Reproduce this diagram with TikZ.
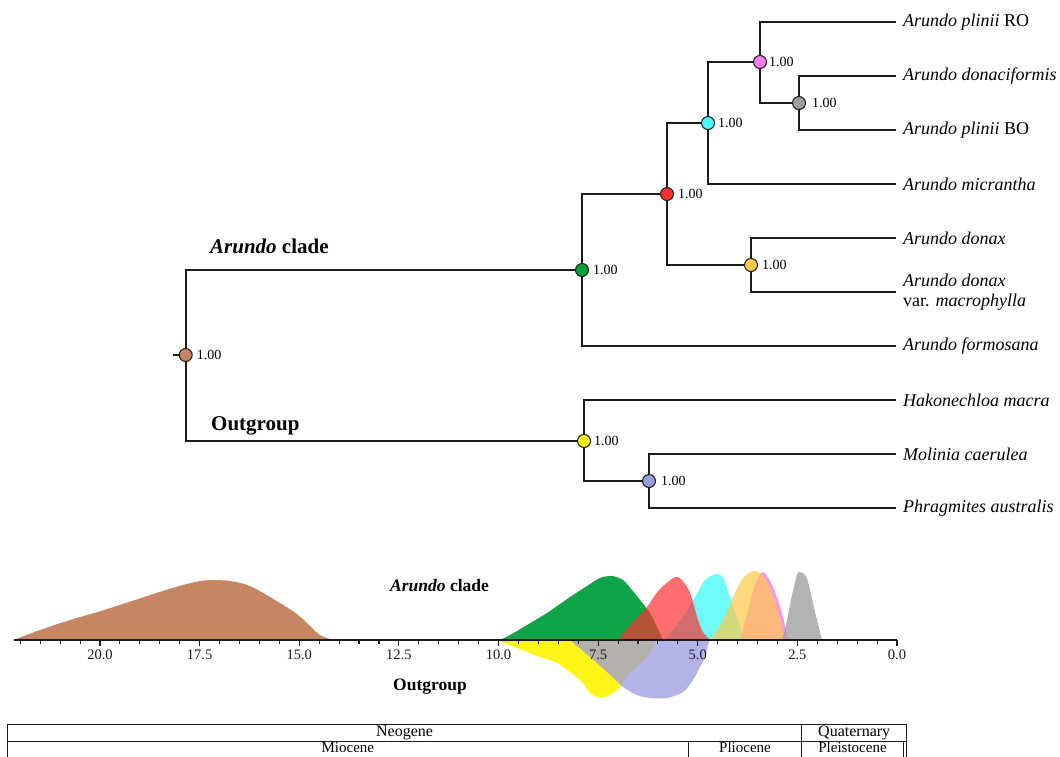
\documentclass[tikz,border=0pt]{standalone}
\usepackage{fontspec}
\setmainfont{Liberation Serif}
\usetikzlibrary{positioning}
\definecolor{tree-line}{HTML}{1A1A1A}
\definecolor{root-brown}{HTML}{C68664}
\definecolor{clade-green}{HTML}{00A03E}
\definecolor{clade-red}{HTML}{FF3030}
\definecolor{clade-cyan}{HTML}{48FAFA}
\definecolor{clade-pink}{HTML}{F77CF0}
\definecolor{clade-gray}{HTML}{A0A0A0}
\definecolor{clade-gold}{HTML}{FFC94A}
\definecolor{out-yellow}{HTML}{FFF400}
\definecolor{out-lavender}{HTML}{9A9AE0}
\tikzset{
  tree-node/.style={
    circle, draw=tree-line, line width=1pt,
    minimum size=13pt, inner sep=0pt
  },
  tree-edge/.style={draw=tree-line, line width=2pt},
  pp-label/.style={font=\fontsize{14}{16}\selectfont, inner sep=1pt},
  tip-label/.style={
    anchor=west, align=left, inner sep=0pt,
    font=\fontsize{18}{20}\selectfont\itshape
  },
  group-label/.style={anchor=base west, inner sep=0pt, font=\fontsize{21}{24}\selectfont\bfseries},
  dens-label/.style={anchor=base west, inner sep=0pt, font=\fontsize{17.5}{20}\selectfont\bfseries},
  density/.style={draw=none, fill opacity=0.8},
  axis-line/.style={draw=tree-line, line width=1.4pt},
  tick-label/.style={font=\fontsize{14.5}{16}\selectfont, inner sep=0pt},
  era-cell/.style={
    draw=tree-line, line width=1.1pt, inner sep=0pt,
    minimum height=17.7pt, font=\fontsize{16}{17}\selectfont
  },
  era-text/.style={anchor=base, inner sep=0pt, font=\fontsize{15}{16}\selectfont}
}

\begin{document}
\begin{tikzpicture}[x=1pt, y=-1pt]
  \useasboundingbox (0,0) rectangle (1060,756);

  % Internal nodes of the tree
  \node[tree-node, fill=root-brown]   (root)     at (185.7,355)   {};
  \node[tree-node, fill=clade-green]  (arundo)   at (582,270)     {};
  \node[tree-node, fill=clade-red]    (a-core)   at (667,194)     {};
  \node[tree-node, fill=clade-cyan]   (a-plin)   at (708,123)     {};
  \node[tree-node, fill=clade-pink]   (a-ro)     at (760,62)      {};
  \node[tree-node, fill=clade-gray]   (a-bo)     at (799,103)     {};
  \node[tree-node, fill=clade-gold]   (a-donax)  at (751,265)     {};
  \node[tree-node, fill=out-yellow]   (outg)     at (584,441)     {};
  \node[tree-node, fill=out-lavender] (outg-mp)  at (649,481)     {};
  \coordinate (root-stub) at (173,355);

  % Posterior probabilities
  \node[pp-label, right=3pt of root]    {1.00};
  \node[pp-label, right=3pt of arundo]  {1.00};
  \node[pp-label, right=3pt of a-core]  {1.00};
  \node[pp-label, right=2pt of a-plin]  {1.00};
  \node[pp-label, right=1pt of a-ro]    {1.00};
  \node[pp-label, right=5pt of a-bo]    {1.00};
  \node[pp-label, right=3pt of a-donax] {1.00};
  \node[pp-label, right=2pt of outg]    {1.00};
  \node[pp-label, right=4pt of outg-mp] {1.00};

  % Tips
  \coordinate (ro-end) at (896,22);
  \coordinate (dc-end) at (896,76);
  \coordinate (bo-end) at (896,130);
  \coordinate (mi-end) at (896,184);
  \coordinate (dx-end) at (896,238);
  \coordinate (mp-end) at (896,292);
  \coordinate (fo-end) at (896,346);
  \coordinate (hk-end) at (896,400);
  \coordinate (mo-end) at (896,454);
  \coordinate (ph-end) at (896,508);
  \node[tip-label, right=7pt of ro-end] (ro) {Arundo plinii \textup{RO}};
  \node[tip-label, right=7pt of dc-end] (dc) {Arundo donaciformis};
  \node[tip-label, right=7pt of bo-end] (bo) {Arundo plinii \textup{BO}};
  \node[tip-label, right=7pt of mi-end] (mi) {Arundo micrantha};
  \node[tip-label, right=7pt of dx-end] (dx) {Arundo donax};
  \node[tip-label, right=7pt of mp-end] (mp) {Arundo donax\\\textup{var.} macrophylla};
  \node[tip-label, right=7pt of fo-end] (fo) {Arundo formosana};
  \node[tip-label, right=7pt of hk-end] (hk) {Hakonechloa macra};
  \node[tip-label, right=7pt of mo-end] (mo) {Molinia caerulea};
  \node[tip-label, right=7pt of ph-end] (ph) {Phragmites australis};

  % Branches (elbows from parent to child)
  \draw[tree-edge] (root) -- (root-stub);
  \draw[tree-edge] (root) |- (arundo);
  \draw[tree-edge] (root) |- (outg);
  \draw[tree-edge] (arundo) |- (a-core);
  \draw[tree-edge] (arundo) |- (fo-end);
  \draw[tree-edge] (a-core) |- (a-plin);
  \draw[tree-edge] (a-core) |- (a-donax);
  \draw[tree-edge] (a-plin) |- (a-ro);
  \draw[tree-edge] (a-plin) |- (mi-end);
  \draw[tree-edge] (a-ro) |- (ro-end);
  \draw[tree-edge] (a-ro) |- (a-bo);
  \draw[tree-edge] (a-bo) |- (dc-end);
  \draw[tree-edge] (a-bo) |- (bo-end);
  \draw[tree-edge] (a-donax) |- (dx-end);
  \draw[tree-edge] (a-donax) |- (mp-end);
  \draw[tree-edge] (outg) |- (hk-end);
  \draw[tree-edge] (outg) |- (outg-mp);
  \draw[tree-edge] (outg-mp) |- (mo-end);
  \draw[tree-edge] (outg-mp) |- (ph-end);

  % Group names on the tree
  \node[group-label] (lab-arundo) at (210,253) {\itshape Arundo\/\upshape\ clade};
  \node[group-label] (lab-outg)   at (211,430) {Outgroup};

  % Age densities, Arundo clade above the axis
  \fill[density, fill=root-brown, fill opacity=1] plot[smooth] coordinates {
    (13.5,640) (40,630) (70,620) (101,611) (135,600) (169,589) (195,582)
    (211,580) (230,581) (250,586) (275,600) (297,614) (310,626) (320,635) (333,640)} -- cycle;
  \fill[density, fill=clade-green, fill opacity=0.95] plot[smooth] coordinates {
    (500,640) (508,636) (517,631) (532,622) (547,613) (560,604) (573,595)
    (587,586) (600,578) (612,576) (623,580) (632,590) (640,600) (650,613)
    (657,627) (663,640)} -- cycle;
  \fill[density, fill=clade-cyan] plot[smooth] coordinates {
    (665,640) (683,617) (695,597) (705,580) (717,574) (723,578) (730,597)
    (737,618) (745,640)} -- cycle;
  \fill[density, fill=clade-red, fill opacity=0.7] plot[smooth] coordinates {
    (618,640) (630,625) (647,607) (655,595) (662,587) (675,577) (682,580)
    (690,593) (698,620) (703,632) (710,640)} -- cycle;
  \fill[density, fill=clade-pink] plot[smooth] coordinates {
    (740,640) (748,610) (755,585) (763,572) (773,587) (782,613) (788,640)} -- cycle;
  \fill[density, fill=clade-gold, fill opacity=0.7] plot[smooth] coordinates {
    (710,640) (723,620) (733,597) (743,578) (753,571) (760,573) (768,583)
    (777,607) (782,627) (785,640)} -- cycle;
  \fill[density, fill=clade-gray] plot[smooth] coordinates {
    (782,640) (787,620) (792,595) (797,575) (800,572) (806,576) (810,590)
    (815,612) (819,628) (822,640)} -- cycle;

  % Age densities, outgroup below the axis
  \fill[density, fill=out-yellow, fill opacity=0.9] plot[smooth] coordinates {
    (497,640) (517,648) (540,657) (557,663) (580,680) (590,693) (597,697)
    (605,697) (617,690) (630,673) (647,657) (657,640)} -- cycle;
  \fill[density, fill=out-lavender, fill opacity=0.75] plot[smooth] coordinates {
    (570,640) (590,657) (607,672) (623,687) (637,695) (650,698) (667,698)
    (683,692) (693,680) (700,667) (705,657) (708,645) (710,640)} -- cycle;

  \node[dens-label] (dens-arundo) at (390,591) {\itshape Arundo\/\upshape\ clade};
  \node[dens-label] (dens-outg)   at (393,690) {Outgroup};

  % Time axis (Ma)
  \draw[axis-line] (13.5,640) -- (897,640);
  \foreach \t in {0,0.5,...,22}
    \draw[tree-line, line width=1.1pt] ({897-39.85*\t},640) -- ++(0,4);
  \foreach \t in {20.0,17.5,15.0,12.5,10.0,7.5,5.0,2.5,0.0}
    \draw[tree-line, line width=1.1pt] ({897-39.85*\t},640) -- ++(0,6)
      node[tick-label, below=3pt] {\t};

  % Geological time scale
  \node[era-cell, minimum width=794.2pt]  (neogene)    at (404.6,733)   {Neogene};
  \node[era-cell, minimum width=105pt]    (quaternary) at (854.2,733)   {Quaternary};
  \node[era-cell, minimum width=680.8pt]  (miocene)    at (347.9,750.6) {};
  \node[era-cell, minimum width=113.4pt]  (pliocene)   at (745,750.6)   {};
  \node[era-cell, minimum width=101.6pt]  (pleisto)    at (852.5,750.6) {};
  \node[era-cell, minimum width=3.4pt]    (holocene)   at (905,750.6)   {};
  \node[era-text] (miocene-txt) at (miocene.center |- 0,752)  {Miocene};
  \node[era-text] (pliocene-txt) at (pliocene.center |- 0,752) {Pliocene};
  \node[era-text] (pleisto-txt) at (pleisto.center |- 0,752)  {Pleistocene};
\end{tikzpicture}
\end{document}
